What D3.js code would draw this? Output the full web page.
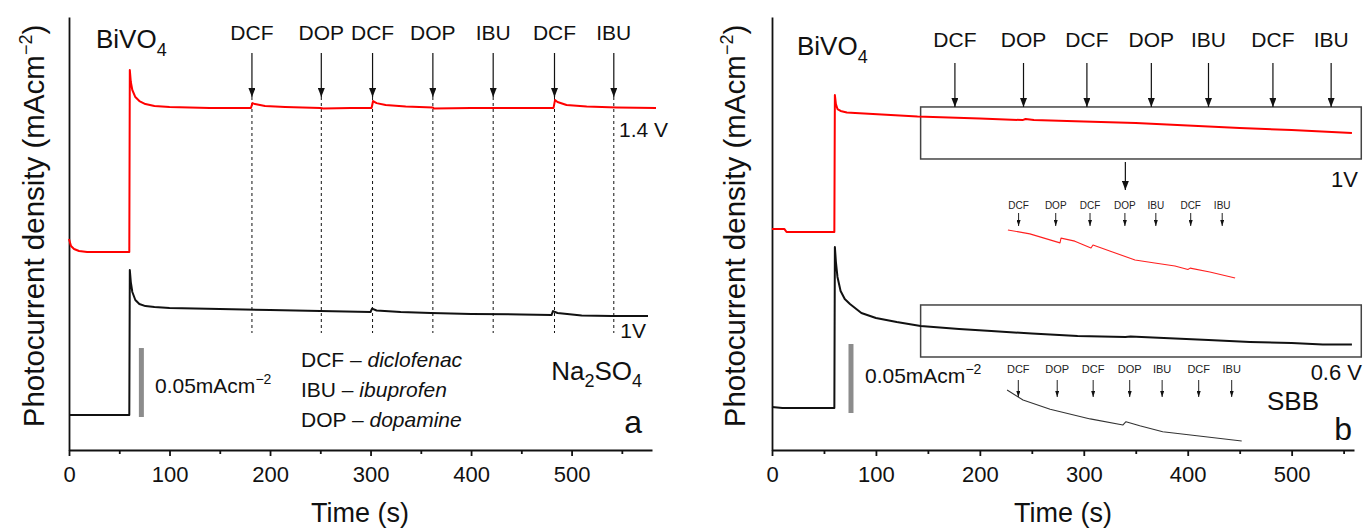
<!DOCTYPE html>
<html>
<head>
<meta charset="utf-8">
<script src="https://cdn.jsdelivr.net/npm/d3@7"></script>
<style>
  html, body { margin: 0; padding: 0; background: #fff; }
  svg { display: block; font-family: "Liberation Sans", Arial, Helvetica, sans-serif; }
</style>
</head>
<body>
<svg id="chart" width="1364" height="528"></svg>
<script>
// ---- time axis ticks (s) ----
const majorTicks = [0, 100, 200, 300, 400, 500];
const minorTicks = [50, 150, 250, 350, 450, 550];

// ---- analyte injections ----
const eventNames = ["DCF", "DOP", "DCF", "DOP", "IBU", "DCF", "IBU"];
const eventTimesA = [182, 251, 302, 362, 422, 483, 542];   // Na2SO4 run
const eventTimesB = [176, 242, 303, 365, 420, 482, 538];   // SBB run

// scale bar height (mA cm^-2)
const scaleBar = 0.05;

// ---- panel a: Na2SO4, [time s, j mA cm^-2] (traces offset for clarity) ----
const redA = [
  [0, 0.1529], [2, 0.1478], [5, 0.1457], [10, 0.1442], [18, 0.1435], [60, 0.1435],
  [60.5, 0.2754], [61.5, 0.2667], [63, 0.2609], [66, 0.2558], [70, 0.2529], [76, 0.2507],
  [85, 0.2493], [100, 0.2486], [140, 0.2478], [181, 0.2478], [182.5, 0.2514], [185, 0.2507],
  [195, 0.2493], [215, 0.2486], [250, 0.2478], [253, 0.2475], [280, 0.2478], [301, 0.2478],
  [302.5, 0.2529], [306, 0.2514], [315, 0.2500], [335, 0.2489], [362, 0.2482], [363, 0.2475],
  [400, 0.2478], [422, 0.2478], [482, 0.2478], [483.5, 0.2536], [486, 0.2522], [495, 0.2500],
  [515, 0.2489], [545, 0.2482], [584, 0.2478]
];
const blackA = [
  [0, 0.0254], [60, 0.0254], [60.5, 0.1304], [61.5, 0.1217], [63, 0.1145], [66, 0.1087],
  [70, 0.1058], [76, 0.1043], [85, 0.1036], [100, 0.1029], [150, 0.1022], [200, 0.1014],
  [250, 0.1007], [300, 0.1000], [301.5, 0.1025], [306, 0.1011], [330, 0.1000], [360, 0.0993],
  [400, 0.0986], [450, 0.0982], [480, 0.0978], [481.5, 0.1007], [486, 0.0993], [510, 0.0975],
  [540, 0.0971], [576, 0.0971]
];

// ---- panel b: SBB ----
const redB = [
  [0, 0.1601], [12, 0.1601], [14, 0.1580], [60, 0.1580], [60.5, 0.2572], [61.5, 0.2507],
  [63, 0.2471], [66, 0.2457], [72, 0.2446], [80, 0.2442], [140, 0.2417], [200, 0.2403],
  [241, 0.2391], [244, 0.2399], [252, 0.2391], [300, 0.2380], [350, 0.2370], [400, 0.2351],
  [450, 0.2333], [500, 0.2319], [558, 0.2297]
];
const blackB = [
  [0, 0.0312], [10, 0.0304], [60, 0.0304], [60.5, 0.1471], [61.5, 0.1362], [63, 0.1254],
  [66, 0.1152], [70, 0.1094], [75, 0.1058], [86, 0.0993], [100, 0.0957], [120, 0.0928],
  [143, 0.0899], [180, 0.0877], [211, 0.0862], [250, 0.0844], [294, 0.0826], [340, 0.0819],
  [345, 0.0823], [377, 0.0812], [420, 0.0797], [460, 0.0783], [500, 0.0775], [530, 0.0764],
  [558, 0.0764]
];
// magnified views of the boxed sections
const insetRedB = [
  [157, 0.2409], [196, 0.2400], [249.6, 0.2379], [251.4, 0.2390], [276, 0.2383],
  [304.7, 0.2367], [308.3, 0.2374], [338, 0.2360], [383, 0.2339], [418, 0.2332],
  [454, 0.2325], [477, 0.2317], [481, 0.2320], [516, 0.2311], [561, 0.2297]
];
const insetBlackB = [
  [157, 0.0888], [184, 0.0863], [230, 0.0840], [298, 0.0816], [353.6, 0.0801],
  [358.7, 0.0809], [382, 0.0799], [421, 0.0784], [479, 0.0774], [555, 0.0761]
];
// boxed regions: [t0, t1, jLow, jHigh]
const boxesB = [[143, 567, 0.2109, 0.2486], [143, 567, 0.0674, 0.1051]];

const svg = d3.select("#chart");
const FONT_TICK = 22;

// arrow head marker
const defs = svg.append("defs");
function addMarker(id, w, h) {
  defs.append("marker")
    .attr("id", id).attr("viewBox", `0 0 ${w} ${h}`)
    .attr("refX", w).attr("refY", h / 2)
    .attr("markerWidth", w).attr("markerHeight", h)
    .attr("markerUnits", "userSpaceOnUse").attr("orient", "auto")
    .append("path").attr("d", `M0,0L${w},${h / 2}L0,${h}Z`).attr("fill", "#111");
}
addMarker("arrowBig", 9, 7);
addMarker("arrowSmall", 6, 4);

function styleAxis(g) {
  g.selectAll(".domain").attr("stroke", "#111").attr("stroke-width", 1.8);
  g.selectAll(".tick line").attr("stroke", "#111").attr("stroke-width", 1.8);
  g.selectAll(".tick text").attr("font-size", FONT_TICK).attr("fill", "#111")
    .attr("font-family", "Liberation Sans, Arial, sans-serif");
}

function drawAxes(x, y, titleX, timeX) {
  const bottom = y.range()[0];
  const gx = svg.append("g").attr("transform", `translate(0,${bottom})`)
    .call(d3.axisBottom(x).tickValues(majorTicks).tickSize(6).tickSizeOuter(0).tickPadding(10));
  styleAxis(gx);
  const gm = svg.append("g").attr("transform", `translate(0,${bottom})`)
    .call(d3.axisBottom(x).tickValues(minorTicks).tickSize(4).tickSizeOuter(0).tickFormat(""));
  styleAxis(gm);
  gm.select(".domain").remove();
  const gy = svg.append("g").attr("transform", `translate(${x.range()[0]},0)`)
    .call(d3.axisLeft(y).tickValues([]).tickSizeOuter(0));
  styleAxis(gy);

  svg.append("text").attr("x", timeX).attr("y", 522).attr("text-anchor", "middle")
    .attr("font-size", 27).attr("fill", "#111").text("Time (s)");

  const t = svg.append("text")
    .attr("transform", `translate(${titleX},226) rotate(-90)`)
    .attr("text-anchor", "middle").attr("font-size", 29.5).attr("fill", "#111");
  t.append("tspan").text("Photocurrent density (mAcm");
  t.append("tspan").attr("dy", -12).attr("font-size", 18).text("\u22122");
  t.append("tspan").attr("dy", 12).text(")");
}

function trace(x, y, data, color, width) {
  svg.append("path").datum(data)
    .attr("fill", "none").attr("stroke", color).attr("stroke-width", width)
    .attr("stroke-linejoin", "round")
    .attr("d", d3.line().x(d => x(d[0])).y(d => y(d[1])));
}

function bivo(xp, yp) {
  const t = svg.append("text").attr("x", xp).attr("y", yp).attr("font-size", 26).attr("fill", "#111");
  t.append("tspan").text("BiVO");
  t.append("tspan").attr("dy", 8).attr("font-size", 18).text("4");
}

function scaleBarLabel(x, y, t, jBase, labelX, labelY) {
  svg.append("line")
    .attr("x1", x(t)).attr("x2", x(t))
    .attr("y1", y(jBase)).attr("y2", y(jBase + scaleBar))
    .attr("stroke", "#8c8c8c").attr("stroke-width", 5);
  const tx = svg.append("text").attr("x", labelX).attr("y", labelY).attr("font-size", 21).attr("fill", "#111");
  tx.append("tspan").text("0.05mAcm");
  tx.append("tspan").attr("dy", -9).attr("font-size", 14).text("\u22122");
}

function plain(txt, xp, yp, size, anchor) {
  return svg.append("text").attr("x", xp).attr("y", yp).attr("font-size", size)
    .attr("text-anchor", anchor || "start").attr("fill", "#111").text(txt);
}

// ================= panel a =================
const xA = d3.scaleLinear().domain([0, 580]).range([69, 652]);
const yA = d3.scaleLinear().domain([0, 0.3138]).range([450, 17]);

drawAxes(xA, yA, 44, 360);

// injection markers: arrows and dashed guides
eventTimesA.forEach((t, i) => {
  const px = xA(t);
  plain(eventNames[i], px, 40, 21, "middle");
  svg.append("line").attr("x1", px).attr("x2", px).attr("y1", 53).attr("y2", 97)
    .attr("stroke", "#111").attr("stroke-width", 1.2).attr("marker-end", "url(#arrowBig)");
  svg.append("line").attr("x1", px).attr("x2", px).attr("y1", 97).attr("y2", 333)
    .attr("stroke", "#111").attr("stroke-width", 1).attr("stroke-dasharray", "3,3");
});

trace(xA, yA, redA, "#ff0000", 2);
trace(xA, yA, blackA, "#111", 2);

bivo(96, 48);
plain("1.4 V", 668, 137, 21, "end");
plain("1V", 646, 338, 21, "end");
scaleBarLabel(xA, yA, 72, 0.0239, 155, 393);

// abbreviation key
const key = [["DCF", "diclofenac"], ["IBU", "ibuprofen"], ["DOP", "dopamine"]];
key.forEach((k, i) => {
  const t = svg.append("text").attr("x", 301).attr("y", 367 + i * 30).attr("font-size", 21).attr("fill", "#111");
  t.append("tspan").text(k[0] + " \u2013 ");
  t.append("tspan").attr("font-style", "italic").text(k[1]);
});

const na = svg.append("text").attr("x", 642).attr("y", 380).attr("text-anchor", "end")
  .attr("font-size", 26).attr("fill", "#111");
na.append("tspan").text("Na");
na.append("tspan").attr("dy", 7).attr("font-size", 18).text("2");
na.append("tspan").attr("dy", -7).text("SO");
na.append("tspan").attr("dy", 7).attr("font-size", 18).text("4");
plain("a", 642, 433, 32, "end");

// ================= panel b =================
const xB = d3.scaleLinear().domain([0, 560]).range([772, 1354]);
const yB = d3.scaleLinear().domain([0, 0.3138]).range([450, 17]);

drawAxes(xB, yB, 745, 1063);

// boxed regions
boxesB.forEach(b => {
  svg.append("rect")
    .attr("x", xB(b[0])).attr("y", yB(b[3]))
    .attr("width", xB(b[1]) - xB(b[0])).attr("height", yB(b[2]) - yB(b[3]))
    .attr("fill", "none").attr("stroke", "#444").attr("stroke-width", 1.5);
});

eventTimesB.forEach((t, i) => {
  const px = xB(t);
  plain(eventNames[i], px, 47, 21, "middle");
  svg.append("line").attr("x1", px).attr("x2", px).attr("y1", 63).attr("y2", yB(boxesB[0][3]))
    .attr("stroke", "#111").attr("stroke-width", 1.2).attr("marker-end", "url(#arrowBig)");
});

trace(xB, yB, redB, "#ff0000", 2);
trace(xB, yB, blackB, "#111", 2);

// pointer from box to magnified view
svg.append("line").attr("x1", xB(340)).attr("x2", xB(340)).attr("y1", 162).attr("y2", 190)
  .attr("stroke", "#111").attr("stroke-width", 1.2).attr("marker-end", "url(#arrowBig)");

// magnified view of the red trace
const xInR = d3.scaleLinear().domain([176, 538]).range([1018.6, 1222.2]);
const yInR = d3.scaleLinear().domain([0.2297, 0.2409]).range([278, 230]);
trace(xInR, yInR, insetRedB, "#ff2020", 1.1);
eventTimesB.forEach((t, i) => {
  const px = xInR(t);
  plain(eventNames[i], px, 209, 10, "middle").attr("fill", "#222");
  svg.append("line").attr("x1", px).attr("x2", px).attr("y1", 213).attr("y2", 226)
    .attr("stroke", "#222").attr("stroke-width", 1).attr("marker-end", "url(#arrowSmall)");
});

// magnified view of the black trace
const xInK = d3.scaleLinear().domain([176, 538]).range([1018.3, 1231.7]);
const yInK = d3.scaleLinear().domain([0.0761, 0.0888]).range([441, 390]);
trace(xInK, yInK, insetBlackB, "#333", 1.1);
eventTimesB.forEach((t, i) => {
  const px = xInK(t);
  plain(eventNames[i], px, 373, 11, "middle").attr("fill", "#222");
  svg.append("line").attr("x1", px).attr("x2", px).attr("y1", 380).attr("y2", 397)
    .attr("stroke", "#222").attr("stroke-width", 1).attr("marker-end", "url(#arrowSmall)");
});

bivo(797, 55);
plain("1V", 1358, 187, 22, "end");
plain("0.6 V", 1362, 380, 22, "end");
plain("SBB", 1319, 410, 26, "end");
plain("b", 1352, 440, 32, "end");
scaleBarLabel(xB, yB, 76, 0.0268, 865, 383);
</script>
</body>
</html>
